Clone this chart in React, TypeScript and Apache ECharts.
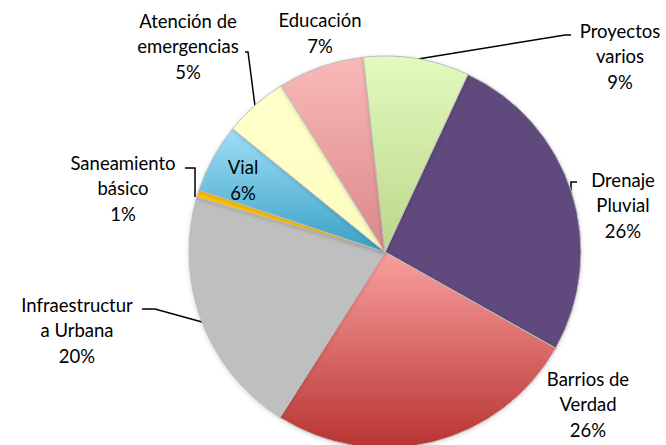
import React, { useEffect, useRef } from "react";
import * as echarts from "echarts";

const categories = [
  "Drenaje\nPluvial",
  "Barrios de\nVerdad",
  "Infraestructur\na Urbana",
  "Saneamiento\nbásico",
  "Vial",
  "Atención de\nemergencias",
  "Educación",
  "Proyectos\nvarios",
];
const values = [26.2, 25.8, 20.5, 0.6, 5.7, 5.3, 7.1, 8.7];

const grad = (top: string, bottom: string) =>
  new echarts.graphic.LinearGradient(0, 0, 0, 1, [
    { offset: 0, color: top },
    { offset: 1, color: bottom },
  ]);

const colors = [
  "#604A7B",
  grad("#F9A09E", "#B83432"),
  "#BFBFBF",
  "#FFC000",
  grad("#A0DEF8", "#38A1C3"),
  grad("#FFFFCA", "#FCFCC0"),
  grad("#F9B9B8", "#DA8888"),
  grad("#E2FABD", "#BDD68B"),
];

// label placement (center of text block) and leader lines
const labelPos: { x: number; y: number; line?: number[][] }[] = [
  { x: 623, y: 205, line: [[571, 193], [571, 182], [577, 182]] },
  { x: 588, y: 404 },
  { x: 77, y: 330, line: [[202, 322], [155, 309], [142, 309]] },
  { x: 123, y: 188, line: [[195, 197], [195, 168], [185, 168]] },
  { x: 243, y: 180 },
  { x: 188, y: 46, line: [[255, 106], [248, 52], [245, 52]] },
  { x: 320, y: 33 },
  { x: 620, y: 56, line: [[418, 59], [565, 35], [571, 35]] },
];

export default function App() {
  const ref = useRef<HTMLDivElement>(null);
  useEffect(() => {
    if (!ref.current) return;
    const chart = echarts.init(ref.current, null, { renderer: "svg" });
    chart.setOption({
      animation: false,
      backgroundColor: "#ffffff",
      series: [
        {
          type: "pie",
          center: [385, 252],
          radius: [0, 196],
          startAngle: 65,
          clockwise: true,
          percentPrecision: 0,
          avoidLabelOverlap: false,
          data: categories.map((name, i) => ({
            name,
            value: values[i],
            itemStyle: { color: colors[i] },
            labelLine: { show: !!labelPos[i].line },
          })),
          itemStyle: {
            borderColor: "#BDBDBD",
            borderWidth: 1,
            shadowBlur: 4,
            shadowColor: "rgba(0,0,0,0.18)",
            shadowOffsetY: 1,
          },
          label: {
            show: true,
            position: "outside",
            formatter: "{b}\n{d}%",
            fontFamily: "Lato",
            fontSize: 18.5,
            lineHeight: 25.5,
            color: "#000000",
            align: "center",
          },
          labelLine: {
            show: true,
            lineStyle: { color: "#000000", width: 1.5 },
          },
          labelLayout: (params: any) => {
            const p = labelPos[params.dataIndex];
            const res: any = {
              x: p.x,
              y: p.y,
              align: "center",
              verticalAlign: "middle",
            };
            if (p.line) res.labelLinePoints = p.line;
            return res;
          },
        },
      ],
    });
    return () => chart.dispose();
  }, []);
  return (
    <div
      ref={ref}
      style={{ position: "absolute", left: 0, top: 0, width: 666, height: 445 }}
    />
  );
}
